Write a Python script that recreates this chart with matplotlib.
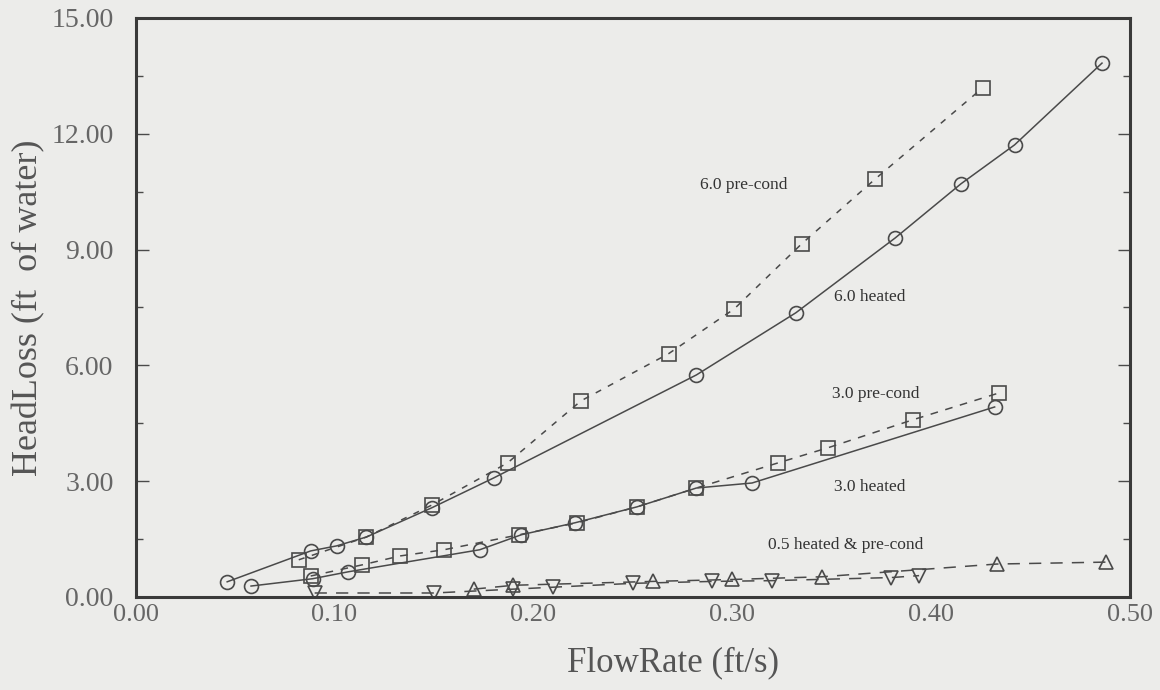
import numpy as np
import matplotlib.pyplot as plt
from matplotlib.ticker import MultipleLocator, FormatStrFormatter

plt.rcParams['font.family'] = ['Liberation Serif', 'DejaVu Serif']

# 6.0 heated (circles, solid)
x_60h = [0.046, 0.088, 0.101, 0.116, 0.149, 0.180, 0.282, 0.332, 0.382, 0.415, 0.442, 0.486]
y_60h = [0.39, 1.19, 1.32, 1.55, 2.31, 3.08, 5.75, 7.36, 9.30, 10.70, 11.71, 13.83]

# 6.0 pre-cond (squares, short dash)
x_60p = [0.082, 0.116, 0.149, 0.187, 0.224, 0.268, 0.301, 0.335, 0.372, 0.426]
y_60p = [0.96, 1.55, 2.38, 3.47, 5.08, 6.30, 7.46, 9.15, 10.83, 13.19]

# 3.0 pre-cond (squares, dashed)
x_30p = [0.088, 0.114, 0.133, 0.155, 0.193, 0.222, 0.252, 0.282, 0.323, 0.348, 0.391, 0.434]
y_30p = [0.54, 0.83, 1.06, 1.22, 1.61, 1.92, 2.33, 2.82, 3.47, 3.86, 4.59, 5.28]

# 3.0 heated (circles, solid)
x_30h = [0.058, 0.089, 0.107, 0.173, 0.194, 0.221, 0.252, 0.282, 0.310, 0.432]
y_30h = [0.28, 0.47, 0.65, 1.22, 1.61, 1.92, 2.33, 2.82, 2.95, 4.92]

# 0.5 heated & pre-cond (triangles)
x_05u = [0.170, 0.190, 0.260, 0.300, 0.345, 0.433, 0.488]
y_05u = [0.20, 0.30, 0.40, 0.45, 0.52, 0.85, 0.90]
x_05d = [0.090, 0.150, 0.190, 0.210, 0.250, 0.290, 0.320, 0.380, 0.394]
y_05d = [0.10, 0.10, 0.20, 0.25, 0.35, 0.40, 0.42, 0.50, 0.55]

bg = '#ececea'
ink = '#4a4a4a'

fig = plt.figure(figsize=(11.6, 6.9), dpi=100, facecolor=bg)
ax = fig.add_axes([0.117, 0.135, 0.857, 0.839], facecolor=bg)

mk = dict(markerfacecolor='none', markeredgecolor=ink, markersize=10,
          markeredgewidth=1.2, color=ink, linewidth=1.1)
ax.plot(x_60h, y_60h, marker='o', linestyle='-', **mk)
ax.plot(x_60p, y_60p, marker='s', linestyle=(0, (4, 5)), **mk)
ax.plot(x_30p, y_30p, marker='s', linestyle=(0, (5, 5)), **mk)
ax.plot(x_30h, y_30h, marker='o', linestyle='-', **mk)
ax.plot(x_05u, y_05u, marker='^', linestyle=(0, (8, 6)), **mk)
ax.plot(x_05d, y_05d, marker='v', linestyle=(0, (8, 6)), **mk)

lab = dict(fontsize=12.5, color='#333333')
ax.text(0.306, 10.67, '6.0 pre-cond', ha='center', va='center', **lab)
ax.text(0.369, 7.77, '6.0 heated', ha='center', va='center', **lab)
ax.text(0.372, 5.26, '3.0 pre-cond', ha='center', va='center', **lab)
ax.text(0.369, 2.85, '3.0 heated', ha='center', va='center', **lab)
ax.text(0.357, 1.35, '0.5 heated & pre-cond', ha='center', va='center', **lab)

ax.set_xlim(0, 0.5)
ax.set_ylim(0, 15)
ax.xaxis.set_major_locator(MultipleLocator(0.1))
ax.yaxis.set_major_locator(MultipleLocator(3))
ax.yaxis.set_minor_locator(MultipleLocator(1.5))
ax.xaxis.set_major_formatter(FormatStrFormatter('%.2f'))
ax.yaxis.set_major_formatter(FormatStrFormatter('%.2f'))
ax.tick_params(axis='y', which='major', direction='in', length=9, width=1,
               right=True, colors=ink, labelsize=20, pad=16, labelcolor='#666666')
ax.tick_params(axis='y', which='minor', direction='in', length=5, width=1, right=True, colors=ink)
ax.tick_params(axis='x', which='major', length=0, labelsize=19, pad=5, labelcolor='#666666')

for s in ax.spines.values():
    s.set_color('#3a3a3a')
    s.set_linewidth(2.2)

ax.set_xlabel('FlowRate (ft/s)', fontsize=25, color='#555555')
ax.xaxis.set_label_coords(0.54, -0.085)
ax.set_ylabel('HeadLoss (ft  of water)', fontsize=26, color='#555555', labelpad=4)

plt.savefig('out.png', dpi=100, facecolor=bg)
